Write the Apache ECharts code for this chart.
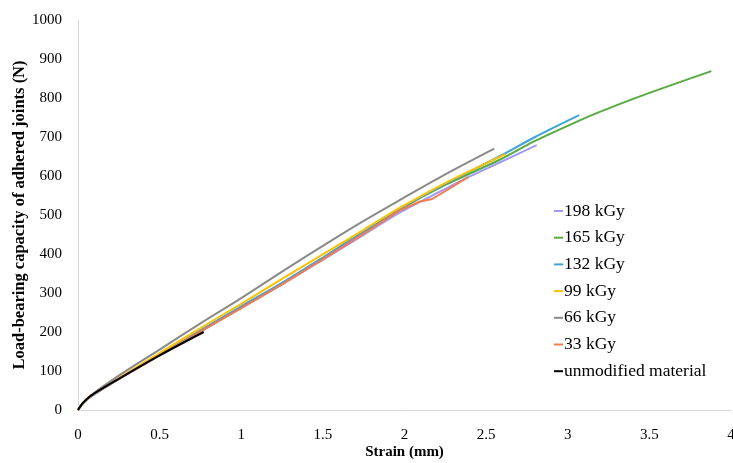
<!DOCTYPE html>
<html>
<head>
<meta charset="utf-8">
<script src="https://cdn.jsdelivr.net/npm/echarts@6/dist/echarts.min.js"></script>
<style>html,body{margin:0;padding:0;background:#fff;}#chart{width:733px;height:463px;}</style>
</head>
<body>
<div id="chart"></div>
<script>
const seriesNames = ['198 kGy','165 kGy','132 kGy','99 kGy','66 kGy','33 kGy','unmodified material'];
const s198 = [[0,0],[0.03,17],[0.08,35],[0.25,79],[0.5,140],[0.75,201],[1,262],[1.25,322],[1.5,385],[1.75,449],[1.97,506],[2.25,567],[2.39,597],[2.58,634],[2.81,679]];
const s165 = [[0,0],[0.03,17],[0.08,35],[0.25,80],[0.5,141],[0.75,203],[1,264],[1.25,325],[1.5,389],[1.75,456],[1.97,514],[2.25,577],[2.58,641],[2.8,690],[3.07,742],[3.2,765],[3.5,813],[3.88,869]];
const s132 = [[0,0],[0.03,17],[0.08,35],[0.25,80],[0.5,142],[0.75,204],[1,266],[1.25,326],[1.5,391],[1.75,458],[1.97,516],[2.25,580],[2.58,650],[2.8,700],[3.07,756]];
const s99 = [[0,0],[0.03,17],[0.08,36],[0.25,82],[0.5,146],[0.75,210],[1,272],[1.25,336],[1.5,399],[1.75,462],[1.97,518],[2.25,582],[2.62,656]];
const s66 = [[0,0],[0.03,18],[0.08,38],[0.25,88],[0.5,155],[0.75,222],[1,287],[1.25,355],[1.5,421],[1.75,485],[1.97,538],[2.25,604],[2.55,670]];
const s33 = [[0,0],[0.03,18],[0.08,37],[0.25,80],[0.5,140],[0.75,201],[1,261],[1.25,322],[1.5,387],[1.75,452],[1.97,511],[2.09,534],[2.17,541],[2.39,597]];
const s0 = [[0,0],[0.03,18],[0.08,37],[0.25,80],[0.5,140],[0.77,200]];
const allData = [s198,s165,s132,s99,s66,s33,s0];
const colors = ['#9f99f5','#56aa3f','#3fa3dc','#ffc000','#8a8a8a','#f47b4d','#000000'];
const xTicks = [0,0.5,1,1.5,2,2.5,3,3.5,4];
const yTicks = [0,100,200,300,400,500,600,700,800,900,1000];

const font = 'Liberation Serif';
const chart = echarts.init(document.getElementById('chart'));
chart.setOption({
  animation: false,
  grid: {left: 78, right: 2, top: 20, bottom: 53, containLabel: false, outerBoundsMode: 'none'},
  legend: {
    orient: 'vertical', left: 549, top: 197, itemGap: 8.7,
    itemWidth: 9, itemHeight: 2, icon: 'rect',
    textStyle: {fontFamily: font, fontSize: 17.5, color: '#000', padding: [0,0,0,-4]},
    data: seriesNames
  },
  xAxis: {
    type: 'value', min: 0, max: 4, interval: 0.5,
    name: 'Strain (mm)', nameLocation: 'middle', nameGap: 35, nameMoveOverlap: false,
    nameTextStyle: {fontFamily: font, fontSize: 15, fontWeight: 'bold', color: '#000'},
    axisLine: {lineStyle: {color: '#d9d9d9', width: 1}},
    axisTick: {show: false},
    splitLine: {show: false},
    axisLabel: {fontFamily: font, fontSize: 15, color: '#000', margin: 18,
      formatter: v => xTicks.includes(v) ? String(v) : ''}
  },
  yAxis: {
    type: 'value', min: 0, max: 1000, interval: 100,
    name: 'Load-bearing capacity of adhered joints (N)', nameLocation: 'middle', nameGap: 50, nameMoveOverlap: false,
    nameTextStyle: {fontFamily: font, fontSize: 16.5, fontWeight: 'bold', color: '#000'},
    axisLine: {show: true, lineStyle: {color: '#d9d9d9', width: 1}},
    axisTick: {show: false},
    splitLine: {show: false},
    axisLabel: {fontFamily: font, fontSize: 15, color: '#000', margin: 16,
      formatter: v => yTicks.includes(v) ? String(v) : ''}
  },
  series: seriesNames.map((n, i) => ({
    name: n, type: 'line', data: allData[i], showSymbol: false, symbol: 'none',
    smooth: i === 5 ? false : 0.3,
    lineStyle: {color: colors[i], width: 2},
    itemStyle: {color: colors[i]}
  }))
});
</script>
</body>
</html>
